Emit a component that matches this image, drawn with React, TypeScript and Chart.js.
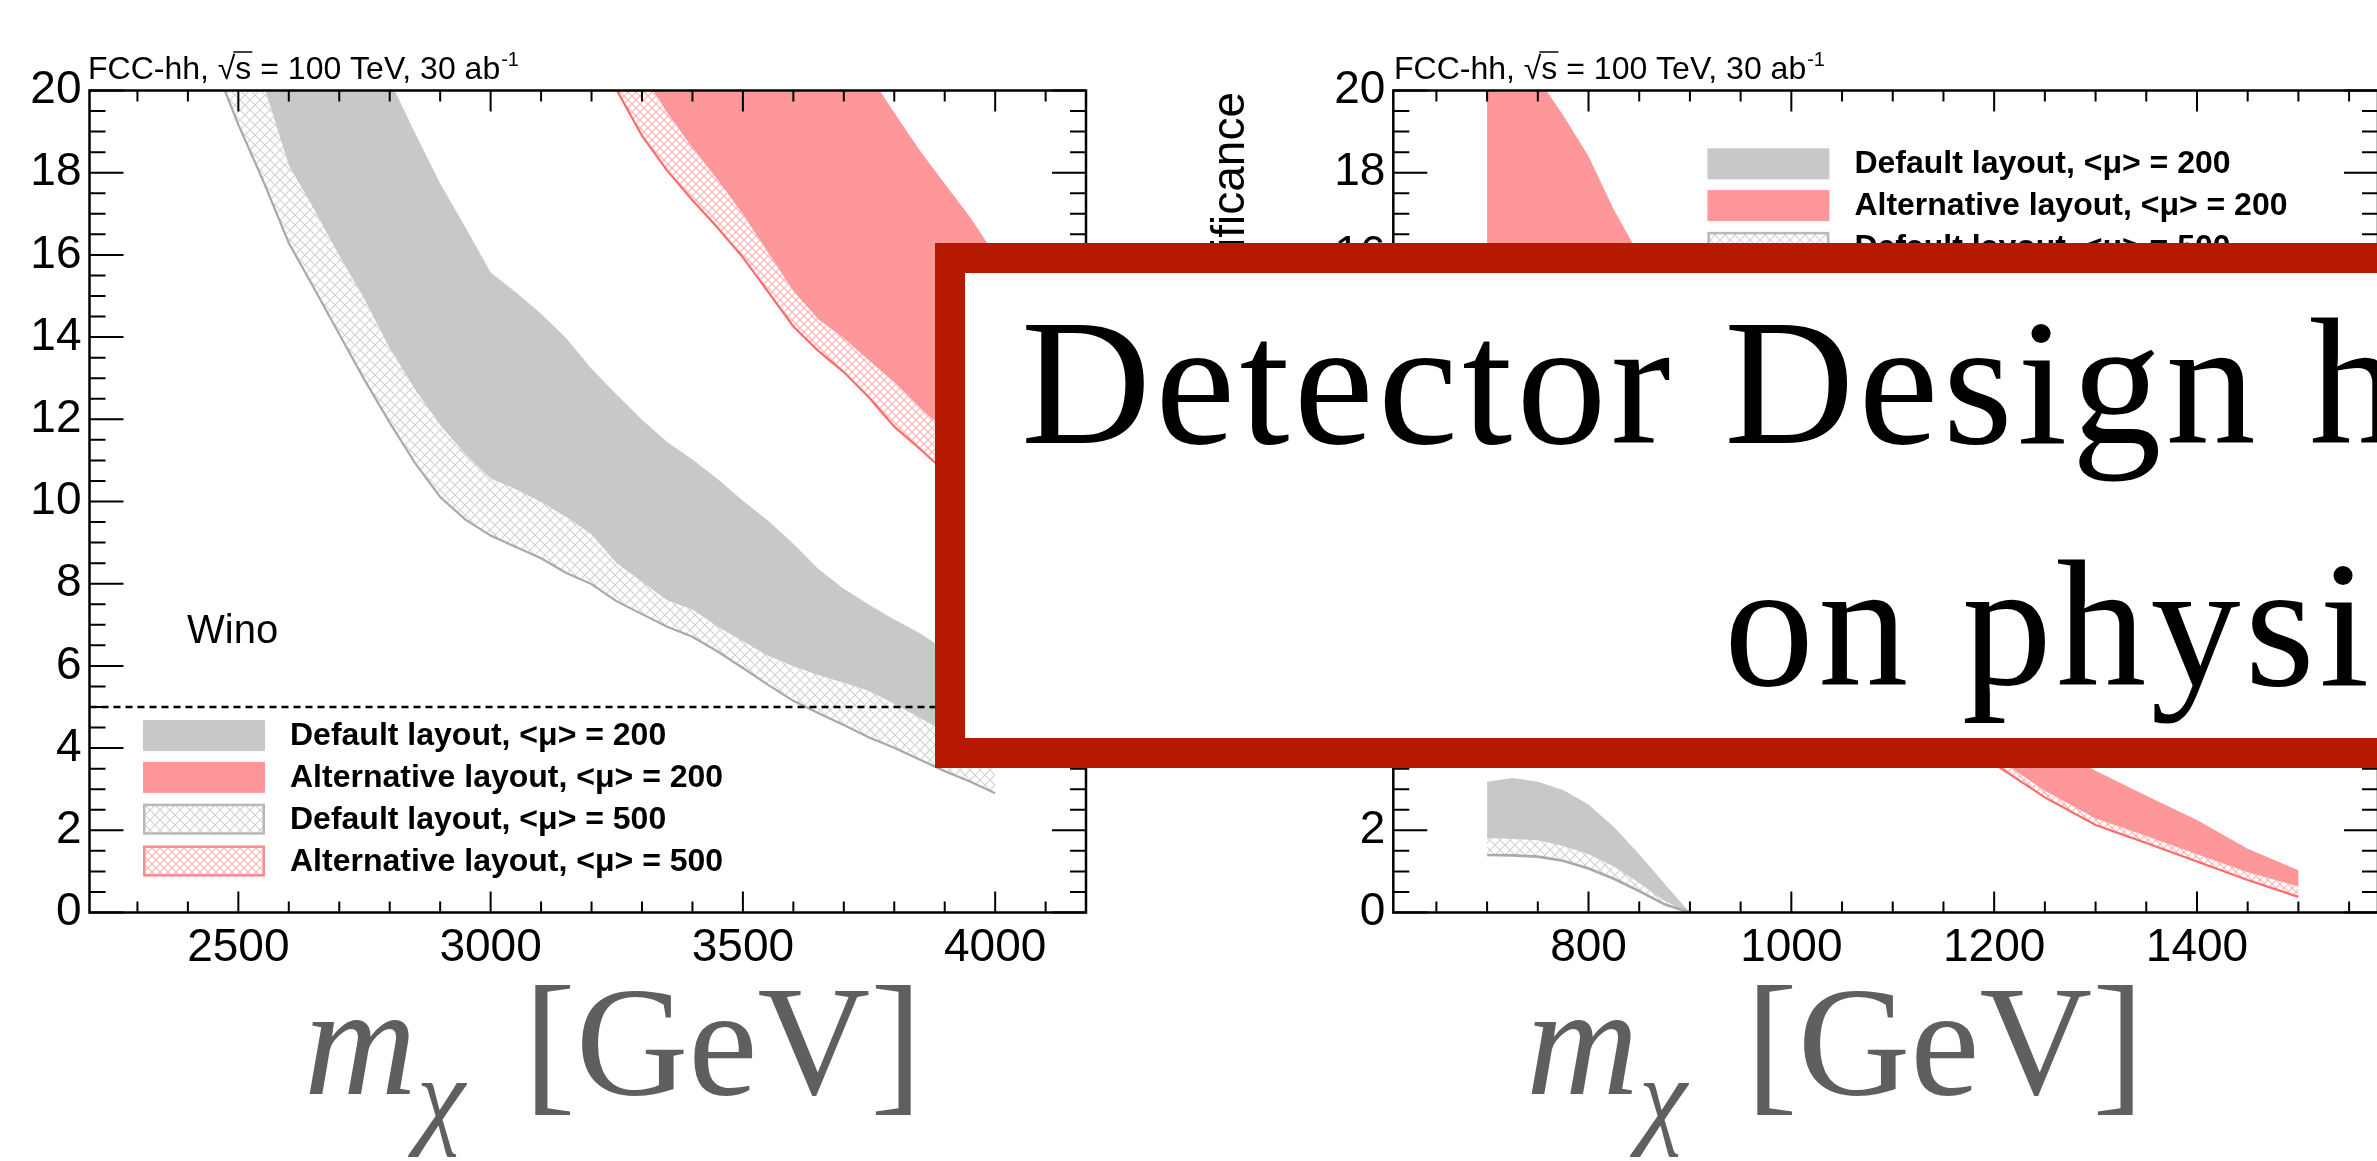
import React, { useEffect, useRef } from "react";
import { Chart, registerables } from "chart.js";

Chart.register(...registerables);

const SANS = '"Liberation Sans", Arial, Helvetica, sans-serif';
const SERIF = '"Liberation Serif", "Times New Roman", serif';

// ---------------- shared ----------------
const yTicks = [0, 2, 4, 6, 8, 10, 12, 14, 16, 18, 20];
const legendLabels = [
  "Default layout, <\u03bc> = 200",
  "Alternative layout, <\u03bc> = 200",
  "Default layout, <\u03bc> = 500",
  "Alternative layout, <\u03bc> = 500",
];
const discoveryLine = 5;

// ---------------- left panel: Wino ----------------
const winoXTicks = [2500, 3000, 3500, 4000];

const winoDef200UpMass = [2800, 2850, 2900, 2950, 3000, 3050, 3100, 3150, 3200, 3250, 3300, 3350, 3400, 3450, 3500, 3550, 3600, 3650, 3700, 3750, 3800, 3850, 3900, 3950, 4000];
const winoDef200UpSig = [20.25, 18.97, 17.74, 16.67, 15.57, 15.09, 14.57, 13.97, 13.23, 12.6, 11.99, 11.45, 11.02, 10.55, 10.02, 9.53, 8.97, 8.35, 7.88, 7.49, 7.13, 6.8, 6.4, 6.0, 5.6];

const winoDef200LoMass = [2545, 2600, 2650, 2700, 2750, 2800, 2850, 2900, 2950, 3000, 3050, 3100, 3150, 3200, 3250, 3300, 3350, 3400, 3450, 3500, 3550, 3600, 3650, 3700, 3750, 3800, 3850, 3900, 3950, 4000];
const winoDef200LoSig = [20.34, 18.18, 17.11, 15.98, 14.92, 13.73, 12.73, 11.86, 11.15, 10.56, 10.3, 9.99, 9.62, 9.2, 8.5, 8.05, 7.6, 7.37, 6.95, 6.6, 6.25, 5.99, 5.77, 5.59, 5.39, 5.08, 4.74, 4.39, 4.05, 3.71];

const winoDef500LoMass = [2465, 2500, 2550, 2600, 2650, 2700, 2750, 2800, 2850, 2900, 2950, 3000, 3050, 3100, 3150, 3200, 3250, 3300, 3350, 3400, 3450, 3500, 3550, 3600, 3650, 3700, 3750, 3800, 3850, 3900, 3950, 4000];
const winoDef500LoSig = [20.25, 19.17, 17.78, 16.29, 15.19, 14.07, 12.96, 11.92, 10.94, 10.11, 9.56, 9.17, 8.89, 8.62, 8.26, 7.99, 7.57, 7.26, 6.95, 6.71, 6.35, 5.95, 5.54, 5.15, 4.85, 4.56, 4.26, 4.01, 3.72, 3.44, 3.19, 2.9];

const winoAlt200UpMass = [3760, 3800, 3850, 3900, 3950, 4000];
const winoAlt200UpSig = [20.21, 19.46, 18.55, 17.73, 16.92, 16.0];

const winoAlt200LoMass = [3310, 3350, 3400, 3450, 3500, 3550, 3600, 3650, 3700, 3750, 3800, 3850, 3900, 3950, 4000];
const winoAlt200LoSig = [20.23, 19.46, 18.6, 17.83, 16.99, 16.05, 15.12, 14.43, 13.97, 13.43, 12.9, 12.29, 11.75, 11.2, 10.7];

const winoAlt500LoMass = [3240, 3300, 3350, 3400, 3450, 3500, 3550, 3600, 3650, 3700, 3750, 3800, 3850, 3900, 3950, 4000];
const winoAlt500LoSig = [20.23, 18.9, 18.05, 17.33, 16.66, 15.94, 15.1, 14.26, 13.66, 13.15, 12.53, 11.82, 11.29, 10.73, 10.19, 9.65];

// ---------------- right panel ----------------
const higXTicks = [800, 1000, 1200, 1400];

const higDefMass = [700, 725, 750, 775, 800, 825, 850, 875, 900];
const higDef200UpSig = [3.18, 3.27, 3.18, 2.98, 2.63, 2.08, 1.42, 0.7, 0.0];
const higDef200LoSig = [1.81, 1.79, 1.76, 1.62, 1.42, 1.12, 0.72, 0.28, 0.0];
const higDef500LoSig = [1.4, 1.39, 1.36, 1.26, 1.07, 0.82, 0.52, 0.2, 0.0];

const higAlt200UpMass = [700, 725, 750, 775, 800, 825, 850, 900, 950, 1000, 1050, 1100, 1150, 1200, 1250, 1300, 1350, 1400, 1450, 1500];
const higAlt200UpSig = [22.2, 21.3, 20.3, 19.4, 18.4, 17.1, 16.0, 13.9, 12.0, 10.3, 8.8, 7.4, 6.2, 5.1, 4.2, 3.45, 2.84, 2.25, 1.55, 1.03];

const higAltLoMass = [700, 750, 800, 850, 900, 950, 1000, 1050, 1100, 1150, 1200, 1250, 1300, 1350, 1400, 1450, 1500];
const higAlt200LoSig = [15.0, 13.3, 11.7, 10.2, 8.9, 7.7, 6.6, 5.7, 4.95, 4.35, 3.8, 2.96, 2.29, 1.86, 1.42, 0.98, 0.63];
const higAlt500LoSig = [14.5, 12.8, 11.2, 9.7, 8.4, 7.2, 6.2, 5.3, 4.6, 4.0, 3.62, 2.8, 2.13, 1.69, 1.24, 0.79, 0.38];

// ---------------- styles ----------------
const GRAY = "#c8c8c8";
const PINK = "#fe979a";
const GRAY_EDGE = "#a9a9a9";
const PINK_EDGE = "#ff6b6b";

function pts(m: number[], s: number[]) {
  return m.map((x, i) => ({ x, y: s[i] }));
}
function band(upM: number[], upS: number[], loM: number[], loS: number[]) {
  return [...pts(upM, upS), ...pts(loM, loS).reverse()];
}

function hatch(ctx: CanvasRenderingContext2D, color: string, size: number, lw: number) {
  const c = document.createElement("canvas");
  c.width = size;
  c.height = size;
  const g = c.getContext("2d")!;
  g.strokeStyle = color;
  g.lineWidth = lw;
  g.beginPath();
  g.moveTo(-1, -1);
  g.lineTo(size + 1, size + 1);
  g.moveTo(size + 1, -1);
  g.lineTo(-1, size + 1);
  g.stroke();
  return ctx.createPattern(c, "repeat") as CanvasPattern;
}

type Pat = { gh: CanvasPattern; ph: CanvasPattern };
type PanelCfg = {
  width: number;
  xMin: number;
  xMax: number;
  xTicks: number[];
  xMinor: number;
  xMajor: number;
  yAxisWidth: number;
  padRight: number;
  datasets: (p: Pat) => any[];
  legendX: number;
  legendY: number;
  fccX: number;
  extra?: (ctx: CanvasRenderingContext2D) => void;
};

const TOP = 90.5;
const BOTTOM = 912.5;
const H = 1161;

function makeDecor(cfg: PanelCfg, pat: Pat) {
  const fills = [GRAY, PINK, pat.gh, pat.ph];
  const borders = [null, null, "#b9b9b9", "#fb8c8c"];
  return {
    id: "rootDecor",
    afterDatasetsDraw(chart: any) {
      const { ctx, chartArea: a } = chart;
      const xs = chart.scales.x;
      const ys = chart.scales.y;
      ctx.save();
      // legend
      const dy = 41.8;
      legendLabels.forEach((t, i) => {
        const cy = cfg.legendY + i * dy;
        ctx.fillStyle = fills[i];
        ctx.fillRect(cfg.legendX, cy - 15.5, 122, 31);
        const b = borders[i];
        if (b) {
          ctx.strokeStyle = b;
          ctx.lineWidth = 2.5;
          ctx.strokeRect(cfg.legendX + 1.25, cy - 14.25, 119.5, 28.5);
        }
        ctx.fillStyle = "#000";
        ctx.font = `bold 32px ${SANS}`;
        ctx.textAlign = "left";
        ctx.textBaseline = "alphabetic";
        ctx.fillText(t, cfg.legendX + 147, cy + 9.5);
      });
      // header text
      ctx.fillStyle = "#000";
      ctx.font = `32px ${SANS}`;
      const head = "FCC-hh, \u221as = 100 TeV, 30 ab";
      const by = 79;
      ctx.fillText(head, cfg.fccX, by);
      const w1 = ctx.measureText("FCC-hh, \u221a").width;
      const w2 = ctx.measureText("FCC-hh, \u221as").width;
      const wAll = ctx.measureText(head).width;
      ctx.strokeStyle = "#000";
      ctx.lineWidth = 1.5;
      ctx.beginPath();
      ctx.moveTo(cfg.fccX + w1 - 2, by - 27);
      ctx.lineTo(cfg.fccX + w2 + 1, by - 27);
      ctx.stroke();
      ctx.font = `20px ${SANS}`;
      ctx.fillText("-1", cfg.fccX + wAll + 1, by - 13);
      if (cfg.extra) cfg.extra(ctx);
      // frame
      ctx.strokeStyle = "#000";
      ctx.lineWidth = 2.5;
      ctx.strokeRect(a.left, a.top, a.right - a.left, a.bottom - a.top);
      ctx.lineWidth = 2;
      ctx.beginPath();
      const eps = 1e-6;
      for (let v = Math.ceil(xs.min / cfg.xMinor) * cfg.xMinor; v <= xs.max + eps; v += cfg.xMinor) {
        const p = xs.getPixelForValue(v);
        const r = v / cfg.xMajor;
        const len = Math.abs(r - Math.round(r)) < 1e-6 ? 21 : 11;
        ctx.moveTo(p, a.bottom);
        ctx.lineTo(p, a.bottom - len);
        ctx.moveTo(p, a.top);
        ctx.lineTo(p, a.top + len);
      }
      for (let v = 0; v <= ys.max + eps; v += 0.5) {
        const p = ys.getPixelForValue(v);
        const r = v / 2;
        const len = Math.abs(r - Math.round(r)) < 1e-6 ? 34 : 16;
        ctx.moveTo(a.left, p);
        ctx.lineTo(a.left + len, p);
        ctx.moveTo(a.right, p);
        ctx.lineTo(a.right - len, p);
      }
      ctx.stroke();
      ctx.restore();
    },
  };
}

function buildChart(canvas: HTMLCanvasElement, cfg: PanelCfg) {
  const ctx = canvas.getContext("2d")!;
  const pat = { gh: hatch(ctx, "#d2d2d2", 10, 1.1), ph: hatch(ctx, "#ffb3b3", 8, 1.2) };
  const raw = cfg.datasets(pat);
  // Chart.js draws lower `order` on top: give the first dataset the highest order
  const datasets = raw.map((d, i) => ({ ...d, order: raw.length - i }));
  return new Chart(canvas, {
    type: "line",
    data: { datasets },
    options: {
      animation: false,
      responsive: false,
      maintainAspectRatio: false,
      events: [],
      layout: { padding: { left: 0, top: TOP, right: cfg.padRight, bottom: 0 } },
      plugins: { legend: { display: false }, tooltip: { enabled: false }, title: { display: false } },
      scales: {
        x: {
          type: "linear",
          min: cfg.xMin,
          max: cfg.xMax,
          afterBuildTicks: (s: any) => {
            s.ticks = cfg.xTicks.map((v) => ({ value: v }));
          },
          afterFit: (s: any) => {
            s.height = H - BOTTOM;
          },
          grid: { display: false, drawTicks: false },
          border: { display: false },
          ticks: {
            autoSkip: false,
            maxRotation: 0,
            padding: 8,
            color: "#000",
            font: { size: 46, family: SANS },
            callback: (v: any) => String(v),
          },
        },
        y: {
          type: "linear",
          min: 0,
          max: 20,
          afterBuildTicks: (s: any) => {
            s.ticks = yTicks.map((v) => ({ value: v }));
          },
          afterFit: (s: any) => {
            s.width = cfg.yAxisWidth;
          },
          grid: { display: false, drawTicks: false },
          border: { display: false },
          ticks: {
            padding: 8,
            color: "#000",
            font: { size: 46, family: SANS },
            callback: (v: any) => String(v),
          },
        },
      },
    },
    plugins: [makeDecor(cfg, pat)],
  } as any);
}

const base = { type: "line", pointRadius: 0, tension: 0, borderWidth: 0, borderColor: "rgba(0,0,0,0)", fill: false };

function winoDatasets(p: Pat) {
  return [
    { ...base, data: band(winoDef200UpMass, winoDef200UpSig, winoDef200LoMass, winoDef200LoSig), fill: "shape", backgroundColor: GRAY },
    { ...base, data: band(winoDef200LoMass, winoDef200LoSig, winoDef500LoMass, winoDef500LoSig), fill: "shape", backgroundColor: p.gh },
    { ...base, data: pts(winoDef500LoMass, winoDef500LoSig), borderWidth: 2.2, borderColor: GRAY_EDGE },
    { ...base, data: band(winoAlt200UpMass, winoAlt200UpSig, winoAlt200LoMass, winoAlt200LoSig), fill: "shape", backgroundColor: PINK },
    { ...base, data: band(winoAlt200LoMass, winoAlt200LoSig, winoAlt500LoMass, winoAlt500LoSig), fill: "shape", backgroundColor: p.ph },
    { ...base, data: pts(winoAlt500LoMass, winoAlt500LoSig), borderWidth: 2.2, borderColor: PINK_EDGE },
    { ...base, data: [{ x: 2205, y: discoveryLine }, { x: 4180, y: discoveryLine }], borderWidth: 2.5, borderColor: "#000", borderDash: [7, 5] },
  ];
}

function higDatasets(p: Pat) {
  return [
    { ...base, data: band(higDefMass, higDef200UpSig, higDefMass, higDef200LoSig), fill: "shape", backgroundColor: GRAY },
    { ...base, data: band(higDefMass, higDef200LoSig, higDefMass, higDef500LoSig), fill: "shape", backgroundColor: p.gh },
    { ...base, data: pts(higDefMass, higDef500LoSig), borderWidth: 2.6, borderColor: GRAY_EDGE },
    { ...base, data: band(higAlt200UpMass, higAlt200UpSig, higAltLoMass, higAlt200LoSig), fill: "shape", backgroundColor: PINK },
    { ...base, data: band(higAltLoMass, higAlt200LoSig, higAltLoMass, higAlt500LoSig), fill: "shape", backgroundColor: p.ph },
    { ...base, data: pts(higAltLoMass, higAlt500LoSig), borderWidth: 2.2, borderColor: PINK_EDGE },
    { ...base, data: [{ x: 607.5, y: discoveryLine }, { x: 1578.5, y: discoveryLine }], borderWidth: 2.5, borderColor: "#000", borderDash: [7, 5] },
  ];
}

const leftCfg: PanelCfg = {
  width: 1180,
  xMin: 2205,
  xMax: 4180,
  xTicks: winoXTicks,
  xMinor: 100,
  xMajor: 500,
  yAxisWidth: 89.5,
  padRight: 1180 - 1086,
  datasets: winoDatasets,
  legendX: 143,
  legendY: 735.6,
  fccX: 88,
  extra: (ctx) => {
    ctx.fillStyle = "#000";
    ctx.font = `40px ${SANS}`;
    ctx.fillText("Wino", 187, 643);
  },
};

const rightCfg: PanelCfg = {
  width: 1200,
  xMin: 607.5,
  xMax: 1578.5,
  xTicks: higXTicks,
  xMinor: 50,
  xMajor: 200,
  yAxisWidth: 213.3,
  padRight: 2,
  datasets: higDatasets,
  legendX: 527.4,
  legendY: 163.8,
  fccX: 214,
  extra: (ctx) => {
    ctx.save();
    ctx.fillStyle = "#000";
    ctx.font = `46px ${SANS}`;
    ctx.translate(64, 92);
    ctx.rotate(-Math.PI / 2);
    ctx.textAlign = "right";
    ctx.textBaseline = "alphabetic";
    ctx.fillText("Significance", 0, 0);
    ctx.restore();
  },
};

function Panel({ cfg, left }: { cfg: PanelCfg; left: number }) {
  const ref = useRef<HTMLCanvasElement>(null);
  useEffect(() => {
    if (!ref.current) return;
    const ch = buildChart(ref.current, cfg);
    return () => ch.destroy();
  }, [cfg]);
  return (
    <canvas
      ref={ref}
      width={cfg.width}
      height={H}
      style={{ position: "absolute", left, top: 0, width: cfg.width, height: H }}
    />
  );
}

function AxisLabel({ left }: { left: number }) {
  return (
    <div
      style={{
        position: "absolute",
        left,
        top: 964,
        fontFamily: SERIF,
        fontSize: 156,
        lineHeight: "156px",
        color: "#5f5f5f",
        whiteSpace: "nowrap",
      }}
    >
      <span style={{ fontStyle: "italic" }}>m</span>
      <span style={{ fontStyle: "italic", fontSize: "0.7em", position: "relative", top: 40 }}>{"\u03c7"}</span>
      <span style={{ marginLeft: 20 }}>{" [GeV]"}</span>
    </div>
  );
}

const boxText: React.CSSProperties = {
  position: "absolute",
  fontFamily: SERIF,
  fontSize: 180,
  lineHeight: "180px",
  letterSpacing: "4.3px",
  color: "#000",
  whiteSpace: "nowrap",
};

export default function App() {
  return (
    <div
      style={{
        position: "fixed",
        left: 0,
        top: 0,
        width: 2377,
        height: 1161,
        overflow: "hidden",
        background: "#fff",
      }}
    >
      <Panel cfg={leftCfg} left={0} />
      <Panel cfg={rightCfg} left={1180} />
      <AxisLabel left={304} />
      <AxisLabel left={1526} />
      <div
        style={{
          position: "absolute",
          left: 935,
          top: 243,
          width: 1600,
          height: 525,
          boxSizing: "border-box",
          border: "30px solid #b51a00",
          background: "#fff",
        }}
      />
      <div style={{ ...boxText, left: 1021, top: 293 }}>Detector Design has</div>
      <div style={{ ...boxText, left: 1724, top: 535 }}>on physics</div>
    </div>
  );
}
